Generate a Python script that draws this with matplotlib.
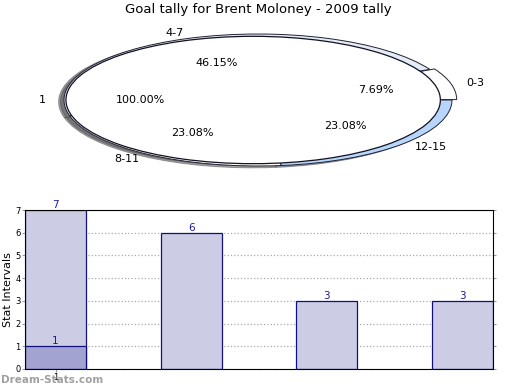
import matplotlib
matplotlib.use("Agg")
import matplotlib.pyplot as plt

title = "Goal tally for Brent Moloney - 2009 tally"
pie_labels = ["0-3", "4-7", "8-11", "12-15"]
pie_values = [1, 6, 3, 3]
pie_colors = ["#ffffff", "#e4ecf7", "#ffffff", "#b8d6fb"]
pie_explode = [0.025, 0, 0, 0]
total_label = ["1"]
total_value = [1]

bar_x = [1, 2, 3, 4]
bar_values = [7, 6, 3, 3]
overlay_x = [1]
overlay_values = [1]
xtick_labels = ["1"]
yticks = [0, 1, 2, 3, 4, 5, 6, 7]

fig = plt.figure(figsize=(5.2, 3.9), dpi=100)
W, H = 520, 390

# ---- pie axes (ellipse by non-equal aspect) ----
cx, cy, rx, ry = 258, 100, 194, 66
lim = 1.2
ax1 = fig.add_axes([(cx - rx * lim) / W, (H - cy - ry * lim) / H,
                    2 * rx * lim / W, 2 * ry * lim / H])

wedges, texts, autotexts = ax1.pie(
    pie_values, labels=pie_labels, colors=pie_colors, explode=pie_explode,
    startangle=0, counterclock=True, autopct="%.2f%%", shadow=True,
    labeldistance=1.08,
    wedgeprops=dict(edgecolor="#222233", linewidth=0.7),
    textprops=dict(fontsize=8), frame=True)
for t in autotexts:
    t.set_alpha(0)

w2, t2, a2 = ax1.pie(
    total_value, labels=total_label, colors=["#ffffff"], startangle=0,
    radius=0.965, center=(-0.025, 0), autopct="%.2f%%", shadow=True,
    labeldistance=1.107,
    wedgeprops=dict(edgecolor="#111122", linewidth=0.9),
    textprops=dict(fontsize=8), frame=True)
for w in w2:
    w.set_zorder(5)
for t in list(t2) + list(a2):
    t.set_zorder(6)
for t in autotexts:
    ax1.text(*t.get_position(), t.get_text(), ha="center", va="center",
             fontsize=8, zorder=7)
ax1.set_aspect("auto")
ax1.set_xlim(-lim, lim)
ax1.set_ylim(-lim, lim)
ax1.axis("off")

fig.text(258 / W, 1 - 10 / H, title, ha="center", va="center", fontsize=9.5)

# ---- bar axes ----
left, right, top, bottom = 25, 493, 210, 369
ax2 = fig.add_axes([left / W, (H - bottom) / H, (right - left) / W, (bottom - top) / H])
ax2.bar(bar_x, bar_values, width=0.45, color="#ccccE4", edgecolor="#101080",
        linewidth=0.9, zorder=2)
ax2.bar(overlay_x, overlay_values, width=0.45, color="#a3a3cf",
        edgecolor="#101080", linewidth=0.9, zorder=3)
for x, v in zip(bar_x, bar_values):
    ax2.text(x, v, str(v), ha="center", va="bottom", fontsize=7.5,
             color="#1a1aa0", zorder=6)
for x, v in zip(overlay_x, overlay_values):
    ax2.text(x, v, str(v), ha="center", va="bottom", fontsize=7.5,
             color="#1a1aa0", zorder=6)
ax2.set_xlim(0.775, 4.225)
ax2.set_ylim(0, 7)
ax2.set_yticks(yticks)
ax2.set_xticks(overlay_x)
ax2.set_xticklabels(xtick_labels)
ax2.tick_params(axis="both", labelsize=6, length=2, pad=1, color="#999999")
ax2.tick_params(axis="y", right=True)
ax2.grid(True, linestyle=":", color="#aaaaaa", linewidth=0.9)
for g in ax2.get_xgridlines() + ax2.get_ygridlines():
    g.set_zorder(4)
for s in ax2.spines.values():
    s.set_zorder(10)
    s.set_color("black")
ax2.set_ylabel("Stat Intervals", fontsize=8, labelpad=2)
ax2.set_xlabel("Frequency", fontsize=8, labelpad=9)

fig.text(1 / W, 1 - 380 / H, "Dream-Stats.com", ha="left", va="center",
         fontsize=7.5, color="#a0a0a0", fontweight="bold", zorder=10)

fig.savefig("out.png", dpi=100)
